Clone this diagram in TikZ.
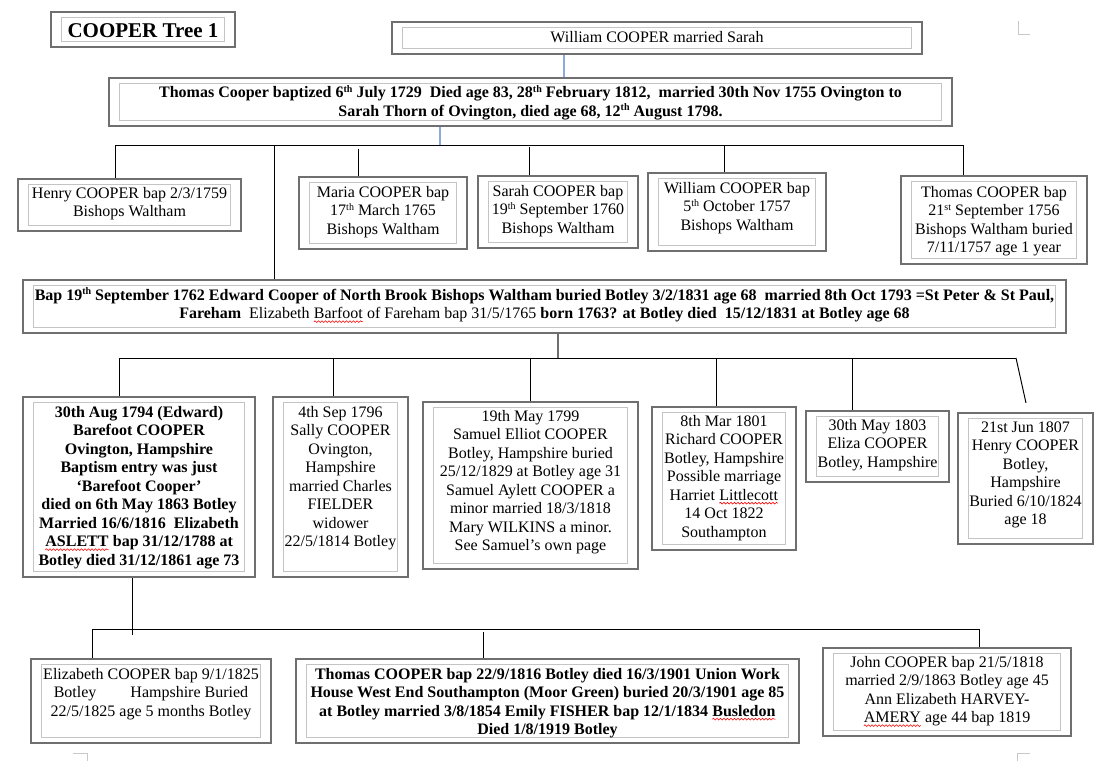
\documentclass[tikz,border=0pt]{standalone}
\usepackage{fontspec}
\setmainfont{Liberation Serif}
\usepackage{xcolor}
\usetikzlibrary{decorations.pathmorphing}
\definecolor{framegray}{HTML}{6F6F6F}
\definecolor{innergray}{HTML}{C4C4C4}
\definecolor{linkblue}{HTML}{8EAADB}
\definecolor{markgray}{HTML}{C8C8C8}
\newcommand\sups[1]{\raisebox{5.5pt}{\fontsize{10}{10}\selectfont #1}}
\newcommand\spellwave[1]{\tikz[baseline=(sw.base)]{\node[inner sep=0pt, outer sep=0pt, anchor=base] (sw) {#1};
  \draw[red, line width=0.6pt, decorate, decoration={snake, amplitude=0.9pt, segment length=3.5pt}] ([yshift=-3pt]sw.base west) -- ([yshift=-3pt]sw.base east);}}
\tikzset{
  famframe/.style={draw=framegray, line width=2.5pt, inner sep=0pt, fill=white,
    path picture={\draw[draw=innergray, line width=0.9pt]
      ([xshift=10.5pt,yshift=-5.5pt]path picture bounding box.north west) rectangle
      ([xshift=-10.5pt,yshift=5.5pt]path picture bounding box.south east);}},
  txt/.style={font=\fontsize{16}{18.5}\selectfont, align=center, inner sep=0pt, anchor=north, text=black},
  txtb/.style={txt, font=\fontsize{16}{18.5}\selectfont\bfseries},
  conn/.style={draw=black, line width=1pt},
  blueconn/.style={draw=linkblue, line width=1.6pt},
  grayconn/.style={draw=framegray, line width=2pt},
  cornermark/.style={draw=markgray, line width=1pt}
}
\newcommand\FamBox[5]{\node[famframe, minimum width={(#4-#2)*1pt}, minimum height={(#5-#3)*1pt}] (#1) at ({(#2+#4)/2},{(#3+#5)/2}) {};}
\begin{document}
\begin{tikzpicture}[x=1pt,y=-1pt]
\fill[white] (0,0) rectangle (1107,761);
\useasboundingbox (0,0) rectangle (1107,761);
% corner marks
\draw[cornermark] (1018,21) -- (1018,34) -- (1030,34);
\draw[cornermark] (73,753) -- (87,753) -- (87,761);
\draw[cornermark] (1030,753) -- (1017,753) -- (1017,761);
% boxes
\FamBox{title}{51}{12}{235}{47}
\FamBox{william}{392}{22}{922}{54}
\FamBox{thomas}{109}{78}{952}{126}
\FamBox{henry}{18}{179}{241}{231}
\FamBox{maria}{299}{177}{467}{249}
\FamBox{sarah}{478}{176}{638}{248}
\FamBox{williamjr}{648}{173}{826}{251}
\FamBox{thomasjr}{901}{176}{1087}{264}
\FamBox{edward}{23}{280}{1066}{333}
\FamBox{barefoot}{23}{397}{255}{577}
\FamBox{sally}{273}{397}{408}{577}
\FamBox{samuel}{423}{402}{638}{569}
\FamBox{richard}{652}{407}{796}{550}
\FamBox{eliza}{806}{411}{949}{482}
\FamBox{henryjr}{958}{413}{1093}{544}
\FamBox{elizabeth}{31}{659}{271}{743}
\FamBox{thomasb}{296}{659}{799}{743}
\FamBox{john}{823}{648}{1071}{736}
% texts
\node[font=\fontsize{21}{25}\selectfont\bfseries, inner sep=0pt, anchor=base] (t-title) at (143,37) {COOPER Tree 1};
\node[txt, anchor=base] (t-william) at (657,42) {William COOPER married Sarah};
\node[txtb] (t-thomas) at (530.5,{92.5-8}) {\strut Thomas Cooper baptized 6\sups{th} July 1729\ \ Died age 83, 28\sups{th} February 1812,\ \ married 30th Nov 1755 Ovington to\\Sarah Thorn of Ovington, died age 68, 12\sups{th} August 1798.};
\node[txt] (t-henry) at (129.5,{193-8}) {\strut Henry COOPER bap 2/3/1759\\Bishops Waltham};
\node[txt] (t-maria) at (383,{192-8}) {\strut Maria COOPER bap\\17\sups{th} March 1765\\Bishops Waltham};
\node[txt] (t-sarah) at (558,{191-8}) {\strut Sarah COOPER bap\\19\sups{th} September 1760\\Bishops Waltham};
\node[txt] (t-williamjr) at (737,{188-8}) {\strut William COOPER bap\\5\sups{th} October 1757\\Bishops Waltham};
\node[txt] (t-thomasjr) at (994,{192-8}) {\strut Thomas COOPER bap\\21\sups{st} September 1756\\Bishops Waltham buried\\7/11/1757 age 1 year};
\node[txt] (t-edward) at (544.5,{295-8}) {\strut\textbf{Bap 19\sups{th} September 1762 Edward Cooper of North Brook Bishops Waltham buried Botley 3/2/1831 age 68\ \ married 8th Oct 1793 =St Peter \& St Paul,}\\\textbf{Fareham}\ \ Elizabeth \spellwave{Barfoot} of Fareham bap 31/5/1765 \textbf{born 1763? at Botley died\ \ 15/12/1831 at Botley age 68}};
\node[txtb] (t-barefoot) at (139,{412-8}) {\strut 30th Aug 1794 (Edward)\\Barefoot COOPER\\Ovington, Hampshire\\Baptism entry was just\\‘Barefoot Cooper’\\died on 6th May 1863 Botley\\Married 16/6/1816\ \ Elizabeth\\\spellwave{ASLETT} bap 31/12/1788 at\\Botley died 31/12/1861 age 73};
\node[txt] (t-sally) at (340.5,{412-8}) {\strut 4th Sep 1796\\Sally COOPER\\Ovington,\\Hampshire\\married Charles\\FIELDER\\widower\\22/5/1814 Botley};
\node[txt] (t-samuel) at (530.5,{416-8}) {\strut 19th May 1799\\Samuel Elliot COOPER\\Botley, Hampshire buried\\25/12/1829 at Botley age 31\\Samuel Aylett COOPER a\\minor married 18/3/1818\\Mary WILKINS a minor.\\See Samuel’s own page};
\node[txt] (t-richard) at (724,{421-8}) {\strut 8th Mar 1801\\Richard COOPER\\Botley, Hampshire\\Possible marriage\\Harriet \spellwave{Littlecott}\\14 Oct 1822\\Southampton};
\node[txt] (t-eliza) at (877.5,{425-8}) {\strut 30th May 1803\\Eliza COOPER\\Botley, Hampshire};
\node[txt] (t-henryjr) at (1025.5,{427-8}) {\strut 21st Jun 1807\\Henry COOPER\\Botley,\\Hampshire\\Buried 6/10/1824\\age 18};
\node[txt] (t-elizabeth) at (151,{674-8}) {\strut Elizabeth COOPER bap 9/1/1825\\Botley\hspace{34pt}Hampshire Buried\\22/5/1825 age 5 months Botley};
\node[txtb] (t-thomasb) at (547.5,{674-8}) {\strut Thomas COOPER bap 22/9/1816 Botley died 16/3/1901 Union Work\\House West End Southampton (Moor Green) buried 20/3/1901 age 85\\at Botley married 3/8/1854 Emily FISHER bap 12/1/1834 \spellwave{Busledon}\\Died 1/8/1919 Botley};
\node[txt] (t-john) at (947,{662-8}) {\strut John COOPER bap 21/5/1818\\married 2/9/1863 Botley age 45\\Ann Elizabeth HARVEY-\\\spellwave{AMERY} age 44 bap 1819};
% connectors: top
\coordinate (top) at (564,54);
\draw[blueconn] (william.south -| top) -- (thomas.north -| top);
% row 1
\coordinate (r1T) at (440,145);
\coordinate (r1L) at (115,145);
\coordinate (r1R) at (963,145);
\coordinate (r1E) at (274,145);
\coordinate (d1M) at (358,149);
\coordinate (d1S) at (529,147);
\coordinate (d1W) at (724,146);
\draw[blueconn] (thomas.south -| r1T) -- (r1T);
\draw[conn] (r1L) -- (r1R);
\draw[conn] (r1L) -- (r1L |- henry.north);
\draw[conn] (r1E) -- (r1E |- edward.north);
\draw[conn] (d1M) -- (d1M |- maria.north);
\draw[conn] (d1S) -- (d1S |- sarah.north);
\draw[conn] (d1W) -- (d1W |- williamjr.north);
\draw[conn] (r1R) -- (r1R |- thomasjr.north);
% row 2
\coordinate (r2T) at (558,358);
\coordinate (r2L) at (119,358);
\coordinate (r2R) at (1016,358);
\coordinate (d2Sa) at (333,358);
\coordinate (d2Sm) at (530,358);
\coordinate (d2R) at (716,358);
\coordinate (d2E) at (852,358);
\coordinate (hjEnd) at (1026,403);
\draw[grayconn] (edward.south -| r2T) -- (r2T);
\draw[conn] (r2L) -- (r2R);
\draw[conn] (r2L) -- (r2L |- barefoot.north);
\draw[conn] (d2Sa) -- (d2Sa |- sally.north);
\draw[conn] (d2Sm) -- (d2Sm |- samuel.north);
\draw[conn] (d2R) -- (d2R |- richard.north);
\draw[conn] (d2E) -- (d2E |- eliza.north);
\draw[conn] (r2R) -- (hjEnd);
% row 3
\coordinate (r3B) at (132,635);
\coordinate (r3L) at (92,629);
\coordinate (r3R) at (979,629);
\coordinate (d3T) at (483,632);
\draw[conn] (barefoot.south -| r3B) -- (r3B);
\draw[conn] (r3L) -- (r3R);
\draw[conn] (r3L) -- (r3L |- elizabeth.north);
\draw[conn] (d3T) -- (d3T |- thomasb.north);
\draw[conn] (r3R) -- (r3R |- john.north);
\end{tikzpicture}
\end{document}
